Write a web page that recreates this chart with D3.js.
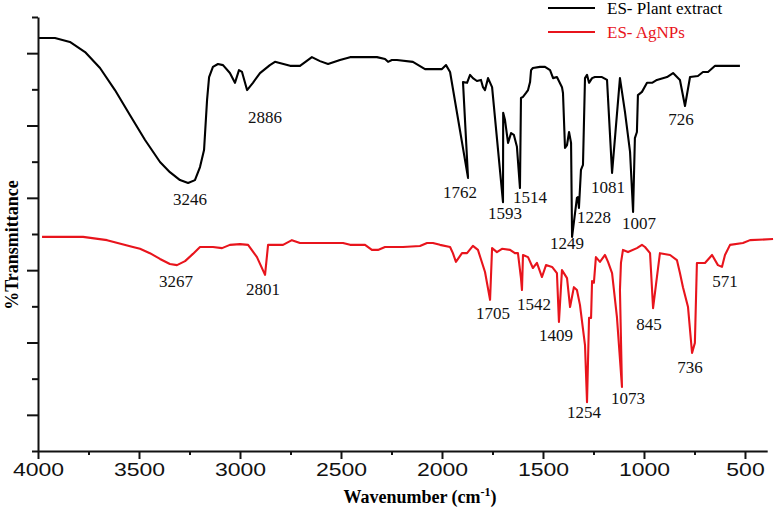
<!DOCTYPE html>
<html>
<head>
<meta charset="utf-8">
<script src="https://cdnjs.cloudflare.com/ajax/libs/d3/7.8.5/d3.min.js"></script>
<style>
  html, body { margin: 0; padding: 0; background: #fff; }
  svg { display: block; }
</style>
</head>
<body>
<svg id="ftirChart" width="774" height="510"></svg>
<script>
// Plant extract spectrum (wavenumber cm-1, %T)
const plantWave = [4000,3916,3842,3767,3693,3619,3545,3470,3396,3347,3297,3257,3223,3198,3178,3163,3153,3134,3109,3084,
  3050,3025,3005,2990,2965,2936,2901,2852,2827,2752,2703,2644,2604,2564,2505,2455,2322,2282,2267,2248,
  2223,2144,2084,2000,1980,1960,1871,1896,1876,1861,1847,1827,1807,1797,1787,1772,1752,1698,1697,1688,
  1673,1658,1644,1629,1614,1609,1599,1584,1574,1564,1559,1550,1515,1490,1465,1450,1431,1406,1401,1391,
  1381,1371,1361,1356,1332,1327,1322,1312,1302,1292,1282,1272,1257,1243,1208,1183,1158,1119,1094,1069,
  1054,1045,1035,1030,1010,985,960,936,886,856,822,797,772,733,708,683,648,525];
const plantT = [114.2,114.2,113.1,110.3,105.9,99.8,92.9,86.0,79.9,77.1,74.9,74.1,74.9,78.5,83.2,97.1,103.4,106.2,107.0,106.7,
  104.5,101.8,105.3,104.8,99.8,101.8,104.5,106.7,107.6,106.5,106.5,108.9,107.8,107.0,108.1,108.9,108.9,108.4,107.6,108.1,
  108.1,107.6,105.6,105.6,106.7,104.8,75.5,102.0,101.8,104.0,103.1,102.3,102.6,100.6,99.8,103.1,100.6,68.8,93.5,91.5,
  85.2,87.9,87.4,84.1,72.7,97.6,97.9,99.0,99.8,102.0,105.3,105.9,106.2,106.2,105.3,103.1,103.4,100.6,99.0,83.8,
  84.6,88.2,85.2,59.2,70.0,70.2,67.2,77.7,79.1,103.1,104.0,101.8,103.1,103.4,103.4,102.6,76.9,103.1,93.7,82.7,
  66.1,86.5,88.2,98.4,99.3,101.8,101.8,102.6,103.4,104.5,102.6,95.4,103.4,103.7,104.8,104.8,106.5,106.5];

// AgNPs spectrum
const agWave = [3980,3777,3658,3530,3495,3446,3396,3347,3312,3272,3233,3198,3134,3089,3050,3000,2960,2916,2876,2861,
  2787,2743,2703,2490,2455,2381,2347,2317,2282,2193,2109,2074,2045,2010,1960,1946,1931,1901,1876,1847,
  1822,1787,1762,1752,1728,1703,1663,1639,1624,1609,1604,1599,1574,1550,1530,1505,1485,1455,1431,1421,
  1406,1381,1366,1347,1332,1317,1292,1282,1272,1262,1257,1248,1238,1218,1193,1178,1158,1134,1109,1119,
  1114,1104,1079,1035,1010,995,970,955,936,921,871,837,822,807,782,762,748,738,698,663,
  634,614,599,574,510,475,361];
const agT = [59.2,59.2,58.3,56.4,55.9,54.7,53.1,51.7,51.4,52.5,54.5,56.4,56.4,56.1,57.0,57.2,57.0,53.6,48.7,57.0,
  57.0,58.3,57.5,57.5,57.0,57.0,55.6,55.6,56.4,56.4,56.7,57.5,57.5,57.0,56.4,54.7,52.3,54.7,54.7,56.7,
  55.6,49.5,41.8,56.1,55.0,55.9,55.6,54.7,54.7,47.8,44.5,54.2,53.6,50.6,52.0,48.1,51.4,50.9,49.2,35.7,
  50.0,47.8,39.8,45.3,44.5,40.4,29.3,13.5,36.8,36.8,47.0,46.5,53.6,52.3,54.2,52.3,49.2,37.1,17.7,44.5,
  52.0,55.6,55.0,56.1,57.0,56.4,54.7,39.5,48.1,54.7,54.2,52.8,49.2,45.3,39.8,27.1,29.9,52.0,52.0,54.2,
  51.4,50.9,54.2,57.0,57.5,58.3,58.6];

// peak labels: text, label wavenumber, label %T
const plantPeaks = ['3246','2886','1762','1593','1514','1249','1228','1081','1007','726'];
const plantPeakWave = [3248,2876,1911,1688,1564,1381,1248,1178,1025,817];
const plantPeakT = [69.7,92.4,71.6,65.8,70.2,57.5,64.7,73.0,63.0,91.8];
const agPeaks = ['3267','2801','1705','1542','1409','1254','1073','845','736','571'];
const agPeakWave = [3317,2886,1748,1545,1436,1297,1079,975,772,599];
const agPeakT = [47.0,44.8,38.2,40.6,32.1,10.8,14.7,35.1,23.2,47.0];

// axis ticks
const xMajor = [4000,3500,3000,2500,2000,1500,1000,500];
const xMinor = [3750,3250,2750,2250,1750,1250,750];
const yMajor = [10,30,50,70,90,110];
const yMinor = [0,20,40,60,80,100,120];

const seriesNames = ['ES- Plant extract','ES- AgNPs'];
const seriesColors = ['#000000','#e8141c'];

const svg = d3.select('#ftirChart');

// scales
const xScale = d3.scaleLinear().domain([4000, 390]).range([38, 767.2]);
const yScale = d3.scaleLinear().domain([0, 120]).range([451, 17]);

const serif = '"Liberation Serif", "Times New Roman", serif';

// spectra
const line = d3.line()
  .x(d => xScale(d[0]))
  .y(d => yScale(d[1]));

const plantData = d3.zip(plantWave, plantT);
const agData = d3.zip(agWave, agT);

[plantData, agData].forEach((dd, i) => {
  svg.append('path')
    .datum(dd)
    .attr('d', line)
    .attr('fill', 'none')
    .attr('stroke', seriesColors[i])
    .attr('stroke-width', 2.1)
    .attr('stroke-linejoin', 'round');
});

// x axis (major + minor)
const xAxisG = svg.append('g').attr('transform', 'translate(0,' + yScale(0) + ')');
xAxisG.append('g')
  .call(d3.axisBottom(xScale).tickValues(xMinor).tickSize(4).tickFormat(''))
  .call(g => g.select('.domain').remove());
xAxisG.append('g')
  .call(d3.axisBottom(xScale).tickValues(xMajor).tickSize(8).tickSizeOuter(0).tickPadding(4)
    .tickFormat(d3.format('d')))
  .call(g => g.selectAll('text')
    .attr('font-family', '"Liberation Sans", Arial, sans-serif')
    .attr('font-size', 19)
    .attr('fill', '#111')
    .attr('textLength', d => String(d).length * 12.8)
    .attr('lengthAdjust', 'spacingAndGlyphs'));
xAxisG.selectAll('path, line').attr('stroke', '#111').attr('stroke-width', 2);

// y axis (no labels)
const yAxisG = svg.append('g').attr('transform', 'translate(' + xScale(4000) + ',0)');
yAxisG.append('g')
  .call(d3.axisLeft(yScale).tickValues(yMinor).tickSize(6).tickFormat(''))
  .call(g => g.select('.domain').remove());
yAxisG.append('g')
  .call(d3.axisLeft(yScale).tickValues(yMajor).tickSize(11).tickSizeOuter(0).tickFormat(''));
yAxisG.selectAll('path, line').attr('stroke', '#111').attr('stroke-width', 2);

// axis titles
const xTitle = svg.append('text')
  .attr('x', 420).attr('y', 503)
  .attr('text-anchor', 'middle')
  .attr('font-family', serif)
  .attr('font-weight', 'bold')
  .attr('font-size', 18);
xTitle.append('tspan').text('Wavenumber (cm');
xTitle.append('tspan').attr('font-size', 12).attr('dy', -7).text('-1');
xTitle.append('tspan').attr('dy', 7).text(')');

svg.append('text')
  .attr('transform', 'translate(18,245) rotate(-90)')
  .attr('text-anchor', 'middle')
  .attr('font-family', serif)
  .attr('font-weight', 'bold')
  .attr('font-size', 18)
  .text('%Transmittance');

// peak annotations
function addPeaks(labels, waves, ts, color) {
  svg.append('g')
    .selectAll('text')
    .data(labels)
    .enter()
    .append('text')
    .attr('x', (dd, i) => xScale(waves[i]))
    .attr('y', (dd, i) => yScale(ts[i]))
    .attr('dy', '0.35em')
    .attr('text-anchor', 'middle')
    .attr('font-family', serif)
    .attr('font-size', 17)
    .attr('fill', color)
    .text(dd => dd);
}
addPeaks(plantPeaks, plantPeakWave, plantPeakT, '#111');
addPeaks(agPeaks, agPeakWave, agPeakT, '#111');

// legend
const legend = svg.append('g').selectAll('g')
  .data(seriesNames)
  .enter()
  .append('g')
  .attr('transform', (dd, i) => 'translate(548,' + (8 + i * 24) + ')');
legend.append('line')
  .attr('x1', 0).attr('x2', 47)
  .attr('stroke', (dd, i) => seriesColors[i])
  .attr('stroke-width', 2);
legend.append('text')
  .attr('x', 59).attr('dy', '0.35em')
  .attr('font-family', serif)
  .attr('font-size', 17)
  .attr('fill', (dd, i) => seriesColors[i])
  .text(dd => dd);
</script>
</body>
</html>
